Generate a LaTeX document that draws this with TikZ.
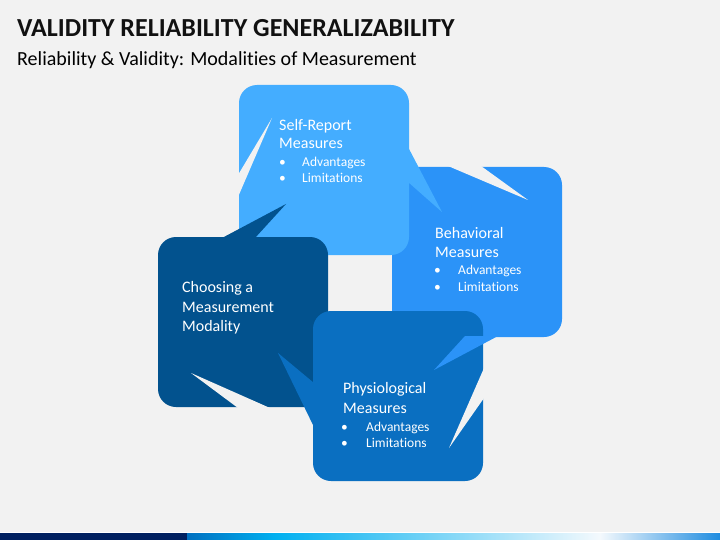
\documentclass[tikz,border=0pt]{standalone}
\usepackage{fontspec}
\setmainfont{Carlito}[Ligatures=NoCommon]
\definecolor{bg}{HTML}{F2F2F2}
\definecolor{colA}{HTML}{44ADFF}
\definecolor{colB}{HTML}{2B93F8}
\definecolor{colC}{HTML}{02528E}
\definecolor{colD}{HTML}{0A6FC1}
\definecolor{navy}{HTML}{002060}
\definecolor{barA}{HTML}{0070C0}
\definecolor{barB}{HTML}{00B0F0}
\definecolor{barC}{HTML}{F4F9FD}
\definecolor{barD}{HTML}{1E8CE0}
\definecolor{titlecol}{HTML}{111111}
\tikzset{
  hd/.style={anchor=base west, inner sep=0pt, text=white, font=\fontsize{16}{19}\selectfont},
  bl/.style={anchor=base west, inner sep=0pt, text=white, font=\fontsize{13.5}{16}\selectfont},
}
\begin{document}
\begin{tikzpicture}[x=1pt,y=-1pt]
\useasboundingbox (0,0) rectangle (720,540);
\fill[bg] (0,0) rectangle (720,540);
% title
\node[anchor=base west, inner sep=0pt, text=titlecol, font=\fontsize{26}{30}\selectfont\bfseries] (title) at (17,37) {VALIDITY RELIABILITY GENERALIZABILITY};
\node[anchor=base west, inner sep=0pt, text=black, font=\fontsize{20}{24}\selectfont] (subtitle) at (17,66) {Reliability \& Validity: Modalities of Measurement};
% B rectangle
\fill[colB, rounded corners=18pt] (392,167) rectangle (562,337);
% A rectangle + tail
\fill[colA, rounded corners=18pt] (239,85) rectangle (409,255);
\fill[colA] (408,147) -- (442,212) -- (408,182) -- cycle;
% A notch
\fill[bg] (238,175) -- (272,118) -- (238,197) -- cycle;
% B notch
\fill[bg] (448,166) -- (528,200) -- (481,166) -- cycle;
% C rectangle + tail
\fill[colC, rounded corners=18pt] (158,237) rectangle (328,407);
\fill[colC] (222,238) -- (286,204) -- (255,238) -- cycle;
% C notch
\fill[bg] (238,408) -- (191,373) -- (270,408) -- cycle;
% D rectangle + tail
\fill[colD, rounded corners=18pt] (313,311) rectangle (483,481);
\fill[colD] (314,383) -- (278,353) -- (314,427) -- cycle;
% D notch
\fill[bg] (484,368) -- (449,448) -- (484,398) -- cycle;
% B tail
\fill[colB] (465,336) -- (434,370) -- (498,336) -- cycle;
% texts A
\node[hd] (a1) at (279,131) {Self-Report};
\node[hd] (a2) at (279,149) {Measures};
\node[bl] (a3b) at (279,167) {•};
\node[bl] (a3) at (302,167) {Advantages};
\node[bl] (a4b) at (279,183) {•};
\node[bl] (a4) at (302,183) {Limitations};
% texts B
\node[hd] (b1) at (435,238) {Behavioral};
\node[hd] (b2) at (435,257) {Measures};
\node[bl] (b3b) at (434,274) {•};
\node[bl] (b3) at (458,274) {Advantages};
\node[bl] (b4b) at (434,291) {•};
\node[bl] (b4) at (458,291) {Limitations};
% texts C
\node[hd] (c1) at (182,292) {Choosing a};
\node[hd] (c2) at (182,312) {Measurement};
\node[hd] (c3) at (182,331) {Modality};
% texts D
\node[hd] (d1) at (343,393) {Physiological};
\node[hd] (d2) at (343,413) {Measures};
\node[bl] (d3b) at (341,431) {•};
\node[bl] (d3) at (366,431) {Advantages};
\node[bl] (d4b) at (341,447) {•};
\node[bl] (d4) at (366,447) {Limitations};
% bottom bar
\fill[white] (0,532) rectangle (720,533);
\fill[navy] (0,533) rectangle (187,540);
\shade[left color=barA, right color=barB] (187,533) rectangle (275,540);
\shade[left color=barB, right color=barC] (275,533) rectangle (600,540);
\shade[left color=barC, right color=barD] (600,533) rectangle (720,540);
\end{tikzpicture}
\end{document}
